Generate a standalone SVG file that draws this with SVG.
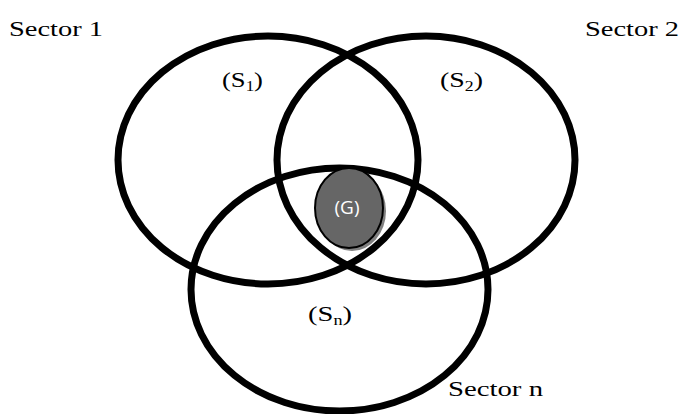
<svg xmlns="http://www.w3.org/2000/svg" width="681" height="414" viewBox="0 0 681 414">
<style>
.ring{fill:none;stroke:#000;stroke-width:7}
.lbl{font-family:"Liberation Serif","Times New Roman",serif;font-size:22px;fill:#000}
.sub{font-size:14px}
.g{font-family:"Open Sans","Liberation Sans",sans-serif;font-size:19px;fill:#fff}
</style>
<rect width="681" height="414" fill="#fff"/>
<g id="connectors"></g>
<g id="sector1">
<ellipse class="ring" cx="268" cy="160" rx="150" ry="124"/>
<text class="lbl" x="9" y="36" textLength="94" lengthAdjust="spacingAndGlyphs">Sector 1</text>
<text class="lbl" x="222" y="87" textLength="41" lengthAdjust="spacingAndGlyphs">(S<tspan class="sub" dy="4">1</tspan><tspan dy="-4">)</tspan></text>
</g>
<g id="sector2">
<ellipse class="ring" cx="426" cy="160" rx="149" ry="124"/>
<text class="lbl" x="585" y="36" textLength="94" lengthAdjust="spacingAndGlyphs">Sector 2</text>
<text class="lbl" x="440" y="87" textLength="43" lengthAdjust="spacingAndGlyphs">(S<tspan class="sub" dy="4">2</tspan><tspan dy="-4">)</tspan></text>
</g>
<g id="sectorn">
<ellipse class="ring" cx="339.5" cy="289.5" rx="148.5" ry="121.5"/>
<text class="lbl" x="448" y="396" textLength="95" lengthAdjust="spacingAndGlyphs">Sector n</text>
<text class="lbl" x="308" y="321" textLength="44" lengthAdjust="spacingAndGlyphs">(S<tspan class="sub" dy="4">n</tspan><tspan dy="-4">)</tspan></text>
</g>
<g id="G">
<ellipse cx="352" cy="211" rx="34" ry="40" fill="#808080"/>
<ellipse cx="349" cy="208" rx="34" ry="40" fill="#666" stroke="#000" stroke-width="2"/>
<text class="g" x="347" y="214" text-anchor="middle">(G)</text>
</g>
</svg>
